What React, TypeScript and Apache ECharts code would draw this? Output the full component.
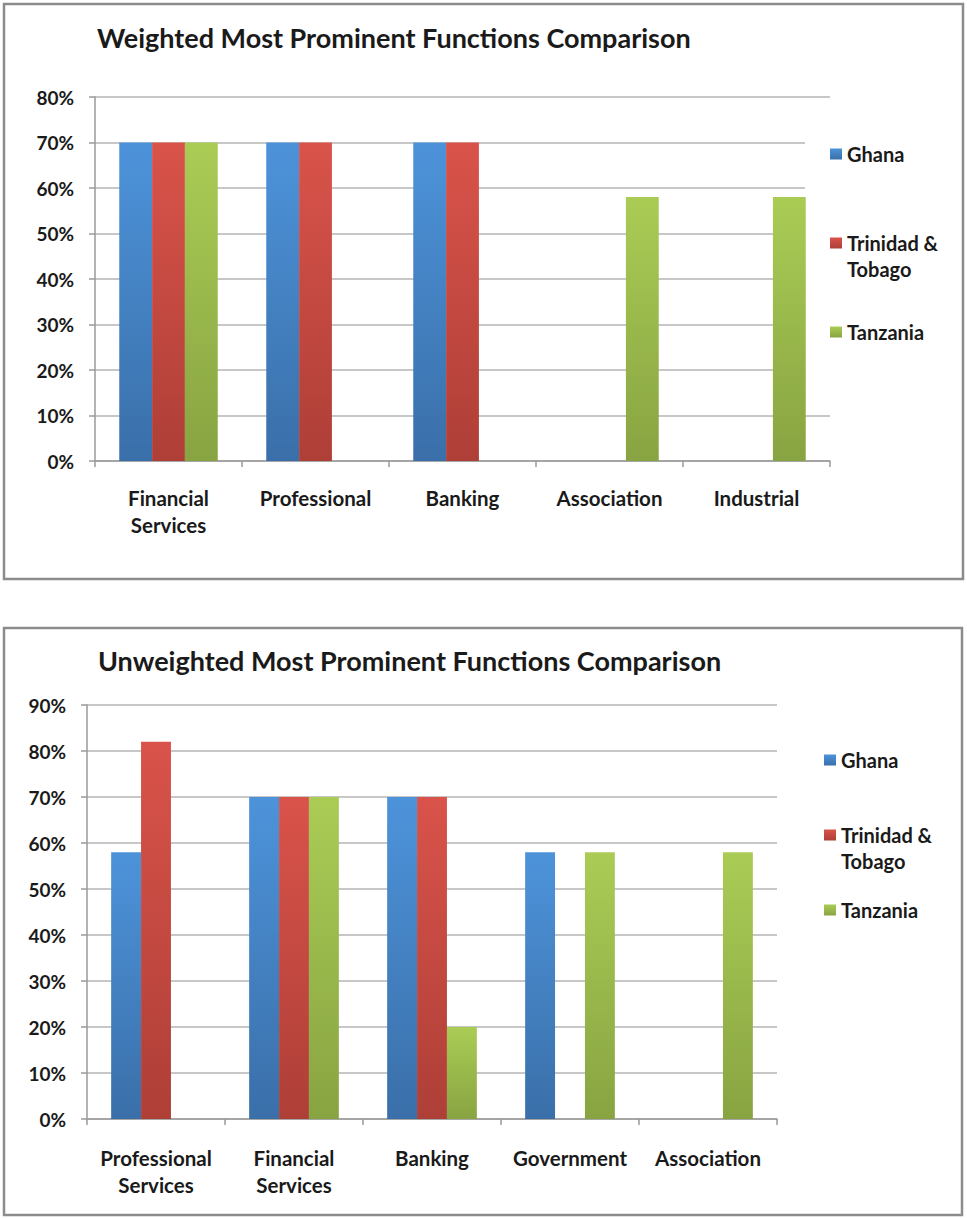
import React, { useEffect, useRef } from "react";
import * as echarts from "echarts";

const categories1 = ["Financial\nServices", "Professional", "Banking", "Association", "Industrial"];
const ghana1 = [70, 70, 70, 0, 0];
const trinidad1 = [70, 70, 70, 0, 0];
const tanzania1 = [70, 0, 0, 58, 58];

const categories2 = ["Professional\nServices", "Financial\nServices", "Banking", "Government", "Association"];
const ghana2 = [58, 70, 70, 58, 0];
const trinidad2 = [82, 70, 70, 0, 0];
const tanzania2 = [0, 70, 20, 58, 58];

const title1 = "Weighted Most Prominent Functions Comparison";
const title2 = "Unweighted Most Prominent Functions Comparison";
const seriesNames = ["Ghana", "Trinidad & Tobago", "Tanzania"];

const FONT = "Lato";

function grad(top: string, bottom: string) {
  return new echarts.graphic.LinearGradient(0, 0, 0, 1, [
    { offset: 0, color: top },
    { offset: 1, color: bottom },
  ]);
}

const colorsTop = ["#4d93da", "#d9534a", "#aacc55"];
const colorsBottom = ["#3a6fa9", "#ae3f37", "#88a442"];

export default function App() {
  const ref = useRef<HTMLDivElement>(null);
  useEffect(() => {
    if (!ref.current) return;
    const chart = echarts.init(ref.current, null, { renderer: "svg" });

    const baseText = { fontFamily: FONT, fontWeight: "bold" as const, color: "#1a1a1a" };
    const mkX = (data: string[], gridIndex: number, margin: number) => ({
      type: "category",
      gridIndex,
      data,
      axisLine: { show: true, lineStyle: { color: "#9a9a9a", width: 1.5 } },
      axisTick: { show: true, length: 6, lineStyle: { color: "#9a9a9a", width: 1.5 } },
      axisLabel: { ...baseText, fontSize: 20.5, margin, lineHeight: 27, interval: 0 },
      splitLine: { show: false },
    });
    const mkY = (max: number, gridIndex: number) => ({
      type: "value",
      gridIndex,
      min: 0,
      max,
      interval: 10,
      axisLine: { show: true, lineStyle: { color: "#9a9a9a", width: 1.5 } },
      axisTick: { show: true, length: 6, lineStyle: { color: "#9a9a9a", width: 1.5 } },
      axisLabel: { ...baseText, fontSize: 19, margin: 21, formatter: "{value}%" },
      splitLine: { show: true, lineStyle: { color: "#b4b4b4", width: 1.5 } },
    });

    const mkSeries = (name: string, data: number[], idx: number, axisIndex: number, gap: string) => ({
      type: "bar",
      name,
      data,
      xAxisIndex: axisIndex,
      yAxisIndex: axisIndex,
      barGap: "0%",
      barCategoryGap: gap,
      z: 2,
      itemStyle: { color: grad(colorsTop[idx], colorsBottom[idx]) },
    });

    const legendText = { ...baseText, fontSize: 20, lineHeight: 26 };
    const mkLegend = (name: string, left: number, top: number, multi: boolean) => ({
      data: [name],
      left,
      top,
      orient: "vertical",
      icon: "rect",
      itemWidth: 12,
      itemHeight: 11,
      itemGap: 0,
      padding: 0,
      selectedMode: false,
      formatter: multi ? "\nTrinidad &\nTobago" : "{name}",
      textStyle: legendText,
    });

    const titleStyle = { ...baseText, fontSize: 27 };

    chart.setOption({
      animation: false,
      backgroundColor: "#ffffff",
      title: [
        { text: title1, left: 97, top: 24, padding: 0, textStyle: titleStyle },
        { text: title2, left: 98, top: 647, padding: 0, textStyle: titleStyle },
      ],
      grid: [
        { left: 95, top: 97, width: 735, height: 364, containLabel: false },
        { left: 87, top: 705, width: 690, height: 414, containLabel: false },
      ],
      xAxis: [mkX(categories1, 0, 23), mkX(categories2, 1, 25)],
      yAxis: [mkY(80, 0), mkY(90, 1)],
      legend: [
        mkLegend(seriesNames[0], 830, 141, false),
        mkLegend(seriesNames[1], 830, 204, true),
        mkLegend(seriesNames[2], 830, 319, false),
        mkLegend(seriesNames[0], 824, 747, false),
        mkLegend(seriesNames[1], 824, 796, true),
        mkLegend(seriesNames[2], 824, 897, false),
      ],
      graphic: [
        { type: "rect", z: 1, shape: { x: 805, y: 102, width: 40, height: 306 }, style: { fill: "#ffffff" } },
        { type: "rect", z: 10, shape: { x: 4, y: 4, width: 959, height: 575 }, style: { fill: "none", stroke: "#8c8c8c", lineWidth: 2.5 } },
        { type: "rect", z: 10, shape: { x: 4, y: 628, width: 958, height: 587 }, style: { fill: "none", stroke: "#8c8c8c", lineWidth: 2.5 } },
      ],
      series: [
        mkSeries(seriesNames[0], ghana1, 0, 0, "33%"),
        mkSeries(seriesNames[1], trinidad1, 1, 0, "33%"),
        mkSeries(seriesNames[2], tanzania1, 2, 0, "33%"),
        mkSeries(seriesNames[0], ghana2, 0, 1, "35%"),
        mkSeries(seriesNames[1], trinidad2, 1, 1, "35%"),
        mkSeries(seriesNames[2], tanzania2, 2, 1, "35%"),
      ],
    });
    return () => chart.dispose();
  }, []);
  return (
    <div
      ref={ref}
      style={{ position: "absolute", left: 0, top: 0, width: 967, height: 1218, background: "#fff" }}
    />
  );
}
